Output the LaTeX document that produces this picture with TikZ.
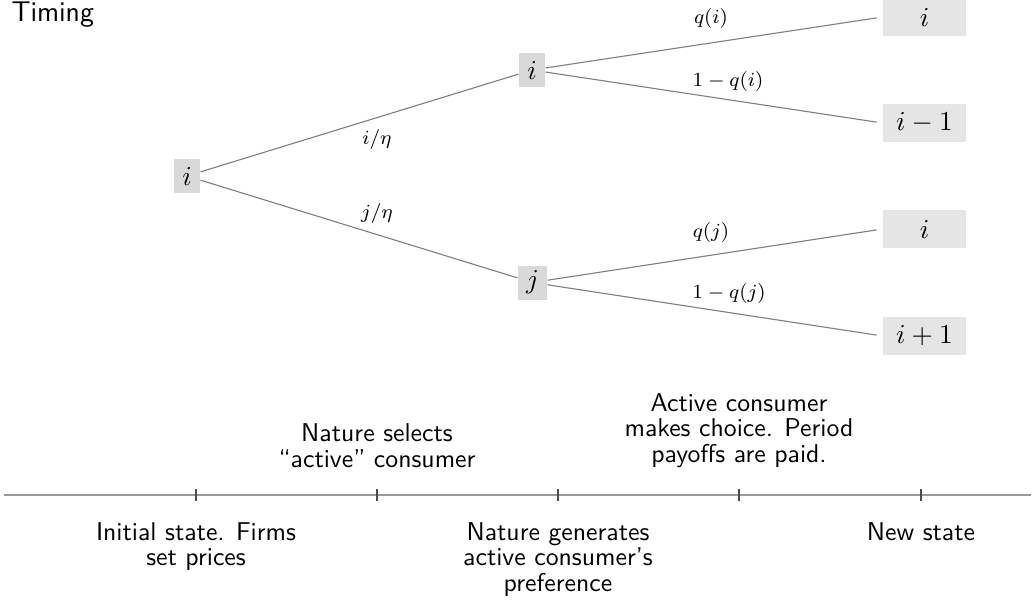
\documentclass[tikz,border=0pt]{standalone}
\usepackage{tikz}
\tikzset{
  state/.style={fill=gray!30, inner sep=0pt, minimum width=10.4pt, minimum height=13.6pt, font=\fontsize{10.6}{12}\selectfont},
  leaf/.style={fill=gray!20, inner sep=0pt, minimum width=33.2pt, minimum height=15.2pt, font=\fontsize{10.6}{12}\selectfont},
  branch/.style={draw=gray, line width=0.45pt},
  lbl/.style={inner sep=0pt, font=\fontsize{8}{9}\selectfont},
  evt/.style={align=center, inner sep=0pt, font=\sffamily\fontsize{10.3}{10.2}\selectfont},
  axisline/.style={draw=gray!80, line width=0.6pt},
  tickmark/.style={draw=black!70, line width=0.5pt},
}
\begin{document}
\begin{tikzpicture}[x=0.4pt,y=-0.4pt]
\useasboundingbox (0,0) rectangle (1032,601);
% title
\node[anchor=base west, inner sep=0pt, font=\sffamily\fontsize{11.4}{13}\selectfont] (title) at (11,21) {Timing};
% tree nodes
\node[state] (r) at (187,176) {$i$};
\node[state] (mi) at (532,70) {$i$};
\node[state, minimum width=11.6pt] (mj) at (532.5,282.5) {$j$};
\node[leaf] (l1) at (924.5,17) {$i$};
\node[leaf] (l2) at (924.5,123) {$i-1$};
\node[leaf] (l3) at (924.5,229) {$i$};
\node[leaf] (l4) at (924.5,336) {$i+1$};
% branches
\draw[branch] (r) -- (mi);
\draw[branch] (r) -- (mj);
\draw[branch, shorten >=2.4pt] (mi) -- (l1.west);
\draw[branch, shorten >=2.4pt] (mi) -- (l2.west);
\draw[branch, shorten >=2.4pt] (mj) -- (l3.west);
\draw[branch, shorten >=2.4pt] (mj) -- (l4.west);
% branch labels
\node[lbl] (a1) at (377,139) {$i/\eta$};
\node[lbl] (a2) at (377,213) {$j/\eta$};
\node[lbl] (b1) at (711,18) {$q(i)$};
\node[lbl] (b2) at (728,81) {$1-q(i)$};
\node[lbl] (b3) at (711,232) {$q(j)$};
\node[lbl] (b4) at (729,293) {$1-q(j)$};
% timeline
\coordinate (t0) at (4,495);
\coordinate (t6) at (1031,495);
\coordinate (T1) at (196,495);
\coordinate (T2) at (377,495);
\coordinate (T3) at (558,495);
\coordinate (T4) at (739,495);
\coordinate (T5) at (921,495);
\draw[axisline] (t0) -- (t6);
\foreach \t in {T1,T2,T3,T4,T5}{
  \draw[tickmark] ([yshift=2.4pt]\t) -- ([yshift=-2.4pt]\t);
}
% events
\node[evt, anchor=north] (e1) at (196,522) {Initial state. Firms\\set prices};
\node[evt, anchor=south] (e2) at (377,468) {Nature selects\\``active'' consumer};
\node[evt, anchor=north] (e3) at (558,522) {Nature generates\\active consumer's\\preference};
\node[evt, anchor=south] (e4) at (739,468) {Active consumer\\makes choice. Period\\payoffs are paid.};
\node[evt, anchor=north] (e5) at (921,522) {New state};
\end{tikzpicture}
\end{document}
